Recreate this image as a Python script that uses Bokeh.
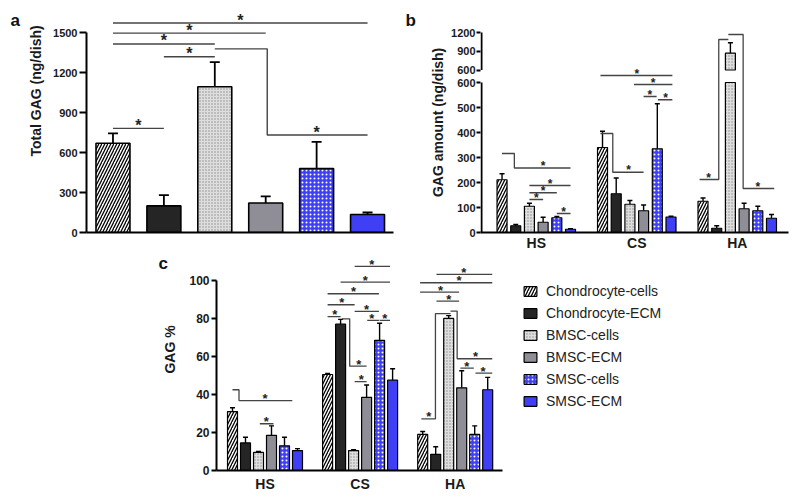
import math
from bokeh.plotting import figure
from bokeh.models import (Range1d, FixedTicker, Legend, LegendItem, Whisker,
                          TeeHead, ColumnDataSource)
from bokeh.layouts import column, row
from bokeh.embed import file_html
from bokeh.resources import INLINE
from bokeh.core.properties import value

FONT = "Liberation Sans"

SERIES = ["Chondrocyte-cells", "Chondrocyte-ECM", "BMSC-cells", "BMSC-ECM", "SMSC-cells", "SMSC-ECM"]
GROUPS = ["HS", "CS", "HA"]

# ---- panel a: total GAG (ng/dish) ----
total_gag = [670, 200, 1095, 222, 480, 135]
total_gag_top = [745, 280, 1280, 272, 680, 150]
a_ticks = [0, 300, 600, 900, 1200, 1500]

# ---- panel b: GAG amount (ng/dish), order HS, CS, HA ----
amt_chondro_cells = [211, 340, 125]
amt_chondro_cells_top = [235, 405, 138]
amt_chondro_ecm = [27, 155, 17]
amt_chondro_ecm_top = [32, 218, 27]
amt_bmsc_cells = [105, 113, 870]
amt_bmsc_cells_top = [117, 128, 1035]
amt_bmsc_ecm = [41, 87, 95]
amt_bmsc_ecm_top = [61, 110, 117]
amt_smsc_cells = [59, 335, 87]
amt_smsc_cells_top = [64, 515, 105]
amt_smsc_ecm = [13, 62, 57]
amt_smsc_ecm_top = [15, 65, 72]
b_ticks_lower = [0, 100, 200, 300, 400, 500, 600]
b_ticks_upper = [600, 900, 1200]

# ---- panel c: GAG %, order HS, CS, HA ----
pct_chondro_cells = [31, 50.5, 19]
pct_chondro_cells_top = [33, 51, 20.5]
pct_chondro_ecm = [14.5, 77, 8.5]
pct_chondro_ecm_top = [17.5, 79.5, 12.5]
pct_bmsc_cells = [9.5, 10.5, 80]
pct_bmsc_cells_top = [10, 11, 81.5]
pct_bmsc_ecm = [18.5, 38.5, 43.5]
pct_bmsc_ecm_top = [23.5, 45, 52.5]
pct_smsc_cells = [13, 68.5, 19]
pct_smsc_cells_top = [17.5, 77.5, 23.5]
pct_smsc_ecm = [10.5, 47.5, 42.5]
pct_smsc_ecm_top = [11.5, 53.5, 49]
c_ticks = [0, 20, 40, 60, 80, 100]

# ---- significance marks ----
sig_a_x = [[0, 5], [0, 3], [0, 2], [1, 2], [2, 3.03, 3.03, 5], [0, 1]]
sig_a_y = [[1573, 1573], [1497, 1497], [1416, 1416], [1320, 1320], [1379, 1379, 732, 732], [782, 782]]
sig_a_star = [(2.5, 1573), (1.5, 1497), (1.0, 1416), (1.5, 1320), (4.0, 732), (0.5, 782)]

sig_b = [
    (0, [0, 0.9, 0.9, 5], [316, 316, 258, 258], (3.0, 258)),
    (0, [2, 5], [188, 188], (3.5, 188)),
    (0, [2, 4], [159, 159], (3.0, 159)),
    (0, [2, 3], [132, 132], (2.5, 132)),
    (0, [4, 5], [76, 76], (4.5, 76)),
    (1, [-0.15, 5.1], [628, 628], (2.5, 628)),
    (1, [2.3, 5.1], [592, 592], (3.7, 592)),
    (1, [3.0, 3.95], [544, 544], (3.45, 544)),
    (1, [4.05, 5.1], [531, 531], (4.6, 531)),
    (1, [-0.15, 0.75, 0.75, 3.0], [396, 396, 241, 241], (1.9, 241)),
    (2, [-0.25, 1.15, 1.15, 1.85], [212, 212, 772, 772], (0.4, 212)),
    (2, [1.85, 2.93, 2.93, 5.2], [792, 792, 176, 176], (4.0, 176)),
]
sig_c = [
    (0, [0, 0.5, 0.5, 4.6], [42.5, 42.5, 36.8, 36.8], (2.5, 36.8)),
    (0, [2.1, 3.15], [24.6, 24.6], (2.6, 24.6)),
    (1, [2.08, 4.8], [107.4, 107.4], (3.4, 107.4)),
    (1, [1.0, 4.8], [99.1, 99.1], (2.9, 99.1)),
    (1, [0, 3.95], [93, 93], (2.0, 93)),
    (1, [0, 2.08], [87.2, 87.2], (1.1, 87.2)),
    (1, [0, 1.0], [81, 81], (0.56, 81)),
    (1, [1.1, 1.7, 1.7, 3.0], [79.8, 79.8, 54.9, 54.9], (2.4, 54.9)),
    (1, [2.08, 3.0], [46.8, 46.8], (2.6, 46.8)),
    (1, [2.08, 3.95], [83.7, 83.7], (3.0, 83.7)),
    (1, [3.05, 3.95], [79, 79], (3.4, 79)),
    (1, [4.0, 4.8], [79, 79], (4.4, 79)),
    (2, [1.06, 5.35], [103.2, 103.2], (3.16, 103.2)),
    (2, [-0.2, 5.35], [98.8, 98.8], (2.8, 98.8)),
    (2, [-0.2, 2.8], [93.9, 93.9], (1.37, 93.9)),
    (2, [1.06, 2.8], [89.1, 89.1], (2.0, 89.1)),
    (2, [-0.1, 0.98, 0.98, 2.14], [27.2, 27.2, 82.5, 82.5], (0.47, 27.2)),
    (2, [2.14, 2.65, 2.65, 5.35], [83.9, 83.9, 58.8, 58.8], (4.06, 58.8)),
    (2, [2.9, 3.93], [53.9, 53.9], (3.4, 53.9)),
    (2, [4.06, 5.35], [51.2, 51.2], (4.65, 51.2)),
]

STYLES = [
    dict(fill_color="white", hatch_pattern="/", hatch_color="black", hatch_weight=1.3, hatch_scale=6),
    dict(fill_color="#252525"),
    dict(fill_color="#dedede", hatch_pattern="dot", hatch_color="#8c8c8c", hatch_scale=3, hatch_weight=1),
    dict(fill_color="#8f8e96"),
    dict(fill_color="#3f3ff5", hatch_pattern="dot", hatch_color="white", hatch_scale=4, hatch_weight=2.6),
    dict(fill_color="#3f3ff5"),
]

# broken axis for panel b
B_BREAK, B_GAP, B_UP = 600, 50, 0.25


def tb(v):
    return v if v <= B_BREAK else B_BREAK + B_GAP + (v - B_BREAK) * B_UP


def tb_upper(v):
    return B_BREAK + B_GAP + (v - B_BREAK) * B_UP


def base_fig(w, h, xr, yr, mb):
    p = figure(width=w, height=h, x_range=Range1d(*xr), y_range=Range1d(*yr),
               output_backend="svg", toolbar_location=None,
               min_border_left=mb[0], min_border_right=mb[1],
               min_border_top=mb[2], min_border_bottom=mb[3])
    p.xgrid.visible = False
    p.ygrid.visible = False
    p.outline_line_color = None
    for ax in (p.xaxis[0], p.yaxis[0]):
        ax.axis_line_width = 2
        ax.axis_line_color = "black"
        ax.major_tick_line_width = 2
        ax.major_tick_line_color = "black"
        ax.minor_tick_line_color = None
        ax.major_tick_in = 0
        ax.major_label_text_font = FONT
        ax.major_label_text_font_style = "bold"
        ax.major_label_text_color = "#1a1a1a"
        ax.axis_label_text_font = FONT
        ax.axis_label_text_font_style = "bold"
        ax.axis_label_text_color = "#1a1a1a"
        ax.axis_label_standoff = 0
    return p


def side_fig(w, h, letter, lx, ly_top, label=None, tx=None, ty_top=None, fs=14):
    """Narrow strip left of a panel holding the panel letter and the rotated y title."""
    p = figure(width=w, height=h, x_range=Range1d(0, w), y_range=Range1d(0, h),
               output_backend="svg", toolbar_location=None,
               min_border_left=0, min_border_right=0, min_border_top=0, min_border_bottom=0)
    p.axis.visible = False
    p.grid.visible = False
    p.outline_line_color = None
    p.text(x=[lx], y=[h - ly_top], text=[letter], text_font=value(FONT), text_font_style="bold",
           text_font_size="17px", text_align="left", text_baseline="middle", text_color="#111")
    if label:
        p.text(x=[tx], y=[h - ty_top], text=[label], angle=math.pi / 2, text_font=value(FONT),
               text_font_style="bold", text_font_size=f"{fs}px", text_align="center",
               text_baseline="middle", text_color="#1a1a1a")
    return p


def stars(p, xs, ys, fs, yoff):
    p.text(x=xs, y=ys, text=["*"] * len(xs), text_font=value(FONT), text_font_style="bold",
           text_font_size=f"{fs}px", text_align="center", text_baseline="middle",
           y_offset=yoff, text_color="#222")


ROW1_H, ROW2_H = 254, 244

# ================= panel a =================
pa = base_fig(352, ROW1_H, (-0.52, 5.51), (0, 1667), (38, 7, 10, 18))
for i, name in enumerate(SERIES):
    pa.vbar(x=[i], top=[total_gag[i]], width=0.667, line_color="black", line_width=1.6, **STYLES[i])
pa.add_layout(Whisker(source=ColumnDataSource(dict(base=list(range(6)), lower=total_gag, upper=total_gag_top)),
                      base="base", lower="lower", upper="upper", line_width=1.8, line_color="black",
                      lower_head=None, upper_head=TeeHead(size=10, line_width=1.8, line_color="black")))
pa.multi_line(xs=sig_a_x, ys=sig_a_y, line_color="#444", line_width=1.4)
stars(pa, [s[0] for s in sig_a_star], [s[1] for s in sig_a_star], 16, -3)
pa.yaxis.ticker = FixedTicker(ticks=a_ticks)
pa.yaxis.bounds = (0, 1500)
pa.yaxis.major_tick_out = 7
pa.yaxis.major_label_standoff = 2
pa.yaxis.major_label_text_font_size = "11px"
pa.xaxis.ticker = FixedTicker(ticks=[])
pa.xaxis.major_tick_out = 0
pa.xaxis.major_label_standoff = 0

# ================= panel b =================
DB, WB = 0.1363, 0.0995
XB0 = -0.555
pb = base_fig(352, ROW1_H, (XB0, 2.51), (0, 888), (32, 12, 10, 22))
amt_vals = [amt_chondro_cells, amt_chondro_ecm, amt_bmsc_cells, amt_bmsc_ecm, amt_smsc_cells, amt_smsc_ecm]
amt_tops = [amt_chondro_cells_top, amt_chondro_ecm_top, amt_bmsc_cells_top, amt_bmsc_ecm_top,
            amt_smsc_cells_top, amt_smsc_ecm_top]
for i in range(6):
    xs, bots, tops = [], [], []
    for g in range(3):
        x = g + (i - 2.5) * DB
        v = amt_vals[i][g]
        if v > B_BREAK:
            xs += [x, x]
            bots += [0, B_BREAK + B_GAP]
            tops += [B_BREAK, tb(v)]
        else:
            xs.append(x)
            bots.append(0)
            tops.append(v)
    pb.vbar(x=xs, bottom=bots, top=tops, width=WB, line_color="black", line_width=1.2, **STYLES[i])
    pb.add_layout(Whisker(source=ColumnDataSource(dict(
        base=[g + (i - 2.5) * DB for g in range(3)],
        lower=[tb(v) for v in amt_vals[i]], upper=[tb(v) for v in amt_tops[i]])),
        base="base", lower="lower", upper="upper", line_width=1.4, line_color="black",
        lower_head=None, upper_head=TeeHead(size=5, line_width=1.4, line_color="black")))
pb.multi_line(xs=[[s[0] + (q - 2.5) * DB for q in s[1]] for s in sig_b], ys=[s[2] for s in sig_b],
              line_color="#444", line_width=1.3)
stars(pb, [s[0] + (s[3][0] - 2.5) * DB for s in sig_b], [s[3][1] for s in sig_b], 12, -2)
upper_pos = [tb_upper(t) for t in b_ticks_upper]
pb.yaxis.ticker = FixedTicker(ticks=b_ticks_lower + upper_pos)
pb.yaxis.major_label_overrides = {pos: str(t) for pos, t in zip(upper_pos, b_ticks_upper)}
pb.yaxis.bounds = (0, upper_pos[-1])
pb.yaxis.axis_line_color = None
pb.yaxis.major_tick_out = 4
pb.yaxis.major_label_standoff = 1
pb.yaxis.major_label_text_font_size = "11px"
xa = XB0 + 0.01
pb.segment(x0=[xa, xa], x1=[xa, xa], y0=[0, upper_pos[0]], y1=[B_BREAK, upper_pos[-1]],
           line_color="black", line_width=2)
pb.xaxis.ticker = FixedTicker(ticks=[0, 1, 2])
pb.xaxis.major_label_overrides = {i: g for i, g in enumerate(GROUPS)}
pb.xaxis.major_tick_out = 0
pb.xaxis.major_label_standoff = 2
pb.xaxis.major_label_text_font_size = "14px"

# ================= panel c =================
DC, WC = 0.1367, 0.105
pc = base_fig(616, ROW2_H, (-0.51, 5.631), (0, 112.6), (32, 0, 2, 28))
pct_vals = [pct_chondro_cells, pct_chondro_ecm, pct_bmsc_cells, pct_bmsc_ecm, pct_smsc_cells, pct_smsc_ecm]
pct_tops = [pct_chondro_cells_top, pct_chondro_ecm_top, pct_bmsc_cells_top, pct_bmsc_ecm_top,
            pct_smsc_cells_top, pct_smsc_ecm_top]
items = []
for i, name in enumerate(SERIES):
    xs = [g + (i - 2.5) * DC for g in range(3)]
    r = pc.vbar(x=xs, top=pct_vals[i], width=WC, line_color="black", line_width=1.2, **STYLES[i])
    items.append(LegendItem(label=name, renderers=[r]))
    pc.add_layout(Whisker(source=ColumnDataSource(dict(base=xs, lower=pct_vals[i], upper=pct_tops[i])),
                          base="base", lower="lower", upper="upper", line_width=1.4, line_color="black",
                          lower_head=None, upper_head=TeeHead(size=5, line_width=1.4, line_color="black")))
pc.multi_line(xs=[[s[0] + (q - 2.5) * DC for q in s[1]] for s in sig_c], ys=[s[2] for s in sig_c],
              line_color="#444", line_width=1.3)
stars(pc, [s[0] + (s[3][0] - 2.5) * DC for s in sig_c], [s[3][1] for s in sig_c], 13, -2)
pc.yaxis.ticker = FixedTicker(ticks=c_ticks)
pc.yaxis.bounds = (0, 100)
pc.yaxis.major_tick_out = 5
pc.yaxis.major_label_standoff = 2
pc.yaxis.major_label_text_font_size = "12px"
pc.xaxis.ticker = FixedTicker(ticks=[0, 1, 2])
pc.xaxis.major_label_overrides = {i: g for i, g in enumerate(GROUPS)}
pc.xaxis.major_tick_out = 0
pc.xaxis.major_label_standoff = 5
pc.xaxis.major_label_text_font_size = "14px"
pc.xaxis.bounds = (-0.51, 2.5)
legend = Legend(items=items, location=(306, 59), glyph_width=16, glyph_height=12, label_height=20,
                spacing=2, padding=0, margin=0, border_line_color=None, background_fill_alpha=0,
                label_text_font=FONT, label_text_font_size="14px", label_standoff=8,
                label_text_color="#222")
pc.add_layout(legend)

fa = side_fig(48, ROW1_H, "a", 10, 11, "Total GAG (ng/dish)", 35, 92, 14)
fb = side_fig(48, ROW1_H, "b", 5, 11, "GAG amount (ng/dish)", 37, 128, 14)
fc = side_fig(184, ROW2_H, "c", 158, 8, "GAG %", 169, 106, 14)

layout = column(row(fa, pa, fb, pb), row(fc, pc))
open("out.html", "w").write(file_html(layout, INLINE))
